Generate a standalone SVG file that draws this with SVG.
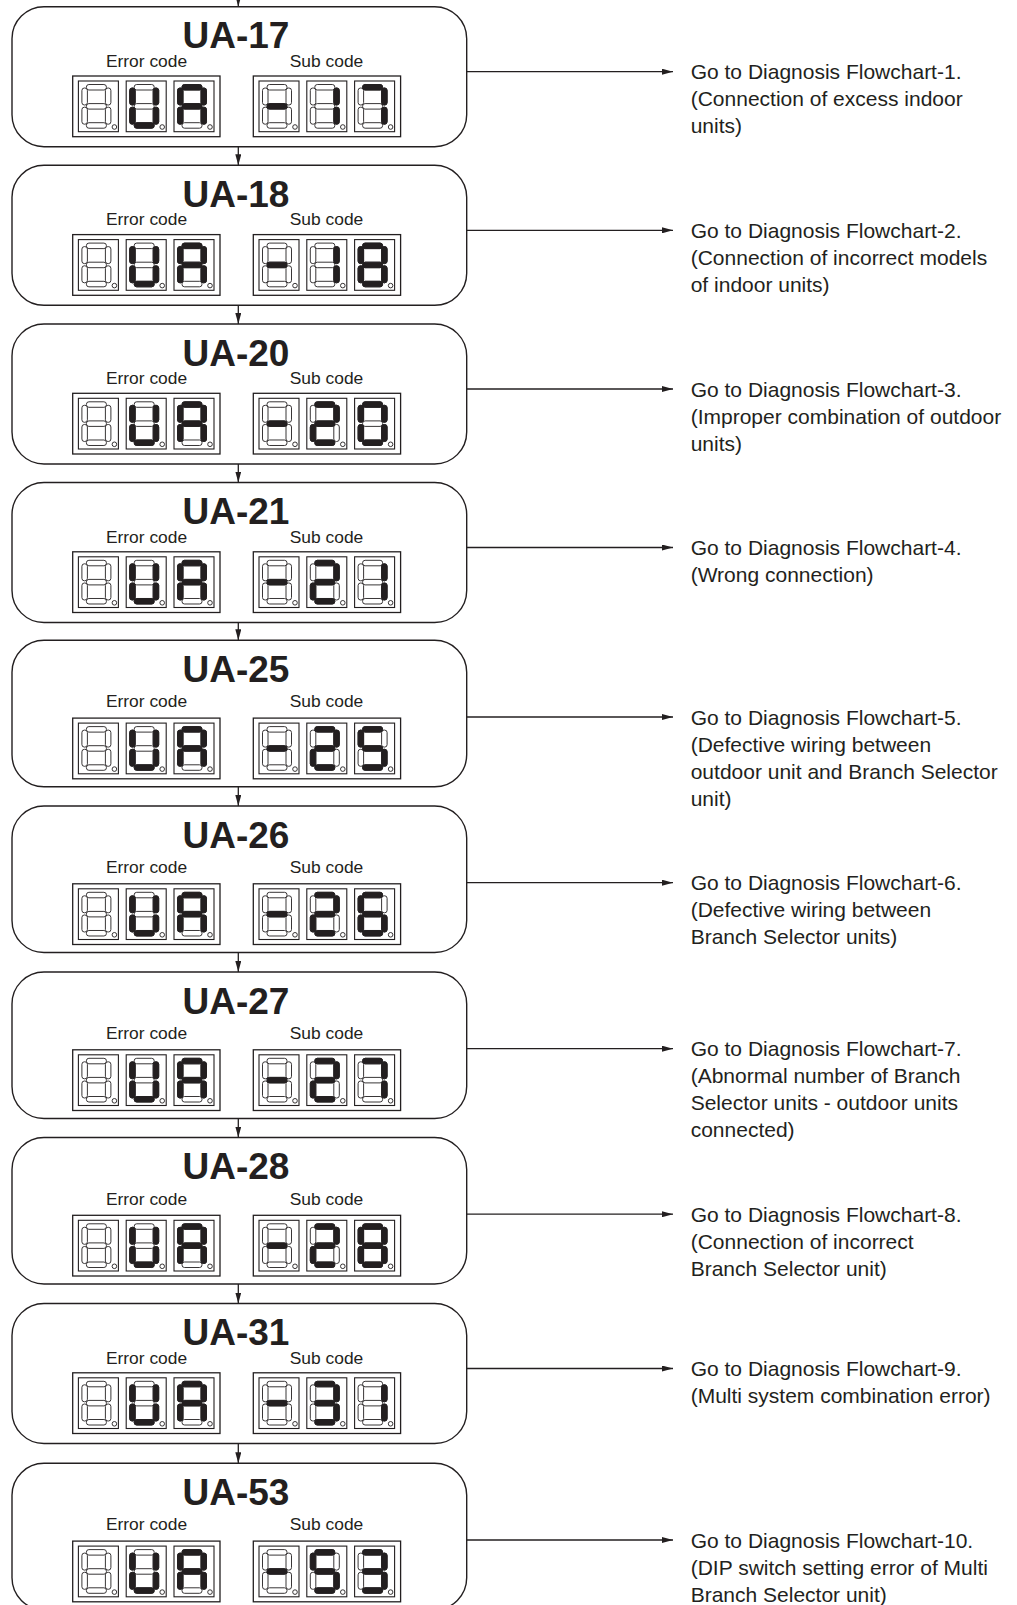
<svg xmlns="http://www.w3.org/2000/svg" xmlns:xlink="http://www.w3.org/1999/xlink" width="1017" height="1605" viewBox="0 0 1017 1605">
<style>
.box{fill:#fff;stroke:#231f20;stroke-width:1.4}
.ttl{font-family:"Liberation Sans",Arial,sans-serif;font-weight:bold;font-size:37px;fill:#231f20;text-anchor:middle}
.lbl{font-family:"Liberation Sans",Arial,sans-serif;font-size:17.4px;fill:#231f20;text-anchor:middle}
.txt{font-family:"Liberation Sans",Arial,sans-serif;font-size:21px;fill:#231f20}
.disp{fill:#fff;stroke:#231f20;stroke-width:1.3}
.cellf{fill:#fff;stroke:#231f20;stroke-width:1.1}
.off{fill:#fff;stroke:#231f20;stroke-width:0.9}
.on{fill:#231f20;stroke:#231f20;stroke-width:0.9}
.con{fill:none;stroke:#231f20;stroke-width:1.3}
</style>
<defs>
<marker id="arr" markerUnits="userSpaceOnUse" markerWidth="11" markerHeight="6" refX="11" refY="3" orient="auto">
<path d="M0,0 L11,3 L0,6 z" fill="#231f20"/>
</marker>
<g id="cell">
<rect class="cellf" x="0" y="0" width="40" height="50.7"/>
<rect class="off" x="8" y="3.5" width="20" height="5.5" rx="2.5"/>
<rect class="off" x="8" y="22.6" width="20" height="5.5" rx="2.5"/>
<rect class="off" x="8" y="41.7" width="20" height="5.5" rx="2.5"/>
<rect class="off" x="3.5" y="7" width="5.5" height="17" rx="2.5"/>
<rect class="off" x="3.5" y="26.2" width="5.5" height="17" rx="2.5"/>
<rect class="off" x="27" y="7" width="5.5" height="17" rx="2.5"/>
<rect class="off" x="27" y="26.2" width="5.5" height="17" rx="2.5"/>
<circle class="off" cx="36" cy="46" r="2.3"/>
</g>
<rect id="sa" class="on" x="8" y="3.5" width="20" height="5.5" rx="2.5"/>
<rect id="sg" class="on" x="8" y="22.6" width="20" height="5.5" rx="2.5"/>
<rect id="sd" class="on" x="8" y="41.7" width="20" height="5.5" rx="2.5"/>
<rect id="sf" class="on" x="3.5" y="7" width="5.5" height="17" rx="2.5"/>
<rect id="se" class="on" x="3.5" y="26.2" width="5.5" height="17" rx="2.5"/>
<rect id="sb" class="on" x="27" y="7" width="5.5" height="17" rx="2.5"/>
<rect id="sc" class="on" x="27" y="26.2" width="5.5" height="17" rx="2.5"/>
<g id="dU"><use href="#cell"/><use href="#sb"/><use href="#sc"/><use href="#sd"/><use href="#se"/><use href="#sf"/></g>
<g id="dA"><use href="#cell"/><use href="#sa"/><use href="#sb"/><use href="#sc"/><use href="#se"/><use href="#sf"/><use href="#sg"/></g>
<g id="dM"><use href="#cell"/><use href="#sg"/></g>
<g id="d0"><use href="#cell"/><use href="#sa"/><use href="#sb"/><use href="#sc"/><use href="#sd"/><use href="#se"/><use href="#sf"/></g>
<g id="d1"><use href="#cell"/><use href="#sb"/><use href="#sc"/></g>
<g id="d2"><use href="#cell"/><use href="#sa"/><use href="#sb"/><use href="#sg"/><use href="#se"/><use href="#sd"/></g>
<g id="d3"><use href="#cell"/><use href="#sa"/><use href="#sb"/><use href="#sg"/><use href="#sc"/><use href="#sd"/></g>
<g id="d5"><use href="#cell"/><use href="#sa"/><use href="#sf"/><use href="#sg"/><use href="#sc"/><use href="#sd"/></g>
<g id="d6"><use href="#cell"/><use href="#sa"/><use href="#sf"/><use href="#sg"/><use href="#se"/><use href="#sc"/><use href="#sd"/></g>
<g id="d7"><use href="#cell"/><use href="#sa"/><use href="#sb"/><use href="#sc"/></g>
<g id="d8"><use href="#cell"/><use href="#sa"/><use href="#sb"/><use href="#sc"/><use href="#sd"/><use href="#se"/><use href="#sf"/><use href="#sg"/></g>
<g id="errDisp"><rect class="disp" width="147.3" height="60.7"/><use href="#cell" x="5.7" y="5"/><use href="#dU" x="53.5" y="5"/><use href="#dA" x="101.3" y="5"/></g>
<rect id="subFrame" class="disp" width="147.3" height="60.7"/>
</defs>
<rect width="1017" height="1605" fill="#fff"/>

<g id="connectors">
<line class="con" x1="238.3" y1="0" x2="238.3" y2="6.7" marker-end="url(#arr)"/>
<line class="con" x1="238.3" y1="146.7" x2="238.3" y2="165.3" marker-end="url(#arr)"/>
<line class="con" x1="238.3" y1="305.3" x2="238.3" y2="324" marker-end="url(#arr)"/>
<line class="con" x1="238.3" y1="464" x2="238.3" y2="482.5" marker-end="url(#arr)"/>
<line class="con" x1="238.3" y1="622.5" x2="238.3" y2="640.3" marker-end="url(#arr)"/>
<line class="con" x1="238.3" y1="786.8" x2="238.3" y2="806" marker-end="url(#arr)"/>
<line class="con" x1="238.3" y1="952.5" x2="238.3" y2="972" marker-end="url(#arr)"/>
<line class="con" x1="238.3" y1="1118.5" x2="238.3" y2="1137.5" marker-end="url(#arr)"/>
<line class="con" x1="238.3" y1="1284" x2="238.3" y2="1303.5" marker-end="url(#arr)"/>
<line class="con" x1="238.3" y1="1443.5" x2="238.3" y2="1463.3" marker-end="url(#arr)"/>
<line class="con" x1="466.7" y1="71.7" x2="673" y2="71.7" marker-end="url(#arr)"/>
<line class="con" x1="466.7" y1="230.3" x2="673" y2="230.3" marker-end="url(#arr)"/>
<line class="con" x1="466.7" y1="389" x2="673" y2="389" marker-end="url(#arr)"/>
<line class="con" x1="466.7" y1="547.5" x2="673" y2="547.5" marker-end="url(#arr)"/>
<line class="con" x1="466.7" y1="717" x2="673" y2="717" marker-end="url(#arr)"/>
<line class="con" x1="466.7" y1="882.7" x2="673" y2="882.7" marker-end="url(#arr)"/>
<line class="con" x1="466.7" y1="1048.7" x2="673" y2="1048.7" marker-end="url(#arr)"/>
<line class="con" x1="466.7" y1="1214.2" x2="673" y2="1214.2" marker-end="url(#arr)"/>
<line class="con" x1="466.7" y1="1368.5" x2="673" y2="1368.5" marker-end="url(#arr)"/>
<line class="con" x1="466.7" y1="1540" x2="673" y2="1540" marker-end="url(#arr)"/>
</g>

<g id="node-ua17">
<rect class="box" x="12" y="6.7" width="454.7" height="140" rx="32"/>
<text class="ttl" x="236" y="48.3">UA-17</text>
<text class="lbl" x="146.5" y="66.7">Error code</text>
<text class="lbl" x="326.5" y="66.7">Sub code</text>
<use href="#errDisp" x="72.7" y="76"/>
<g transform="translate(253.3,76)"><use href="#subFrame"/><use href="#dM" x="5.7" y="5"/><use href="#d1" x="53.5" y="5"/><use href="#d7" x="101.3" y="5"/></g>
</g>
<g id="node-ua18">
<rect class="box" x="12" y="165.3" width="454.7" height="140" rx="32"/>
<text class="ttl" x="236" y="206.9">UA-18</text>
<text class="lbl" x="146.5" y="225.3">Error code</text>
<text class="lbl" x="326.5" y="225.3">Sub code</text>
<use href="#errDisp" x="72.7" y="234.6"/>
<g transform="translate(253.3,234.6)"><use href="#subFrame"/><use href="#dM" x="5.7" y="5"/><use href="#d1" x="53.5" y="5"/><use href="#d8" x="101.3" y="5"/></g>
</g>
<g id="node-ua20">
<rect class="box" x="12" y="324" width="454.7" height="140" rx="32"/>
<text class="ttl" x="236" y="365.6">UA-20</text>
<text class="lbl" x="146.5" y="384">Error code</text>
<text class="lbl" x="326.5" y="384">Sub code</text>
<use href="#errDisp" x="72.7" y="393.3"/>
<g transform="translate(253.3,393.3)"><use href="#subFrame"/><use href="#dM" x="5.7" y="5"/><use href="#d2" x="53.5" y="5"/><use href="#d0" x="101.3" y="5"/></g>
</g>
<g id="node-ua21">
<rect class="box" x="12" y="482.5" width="454.7" height="140" rx="32"/>
<text class="ttl" x="236" y="524.1">UA-21</text>
<text class="lbl" x="146.5" y="542.5">Error code</text>
<text class="lbl" x="326.5" y="542.5">Sub code</text>
<use href="#errDisp" x="72.7" y="551.8"/>
<g transform="translate(253.3,551.8)"><use href="#subFrame"/><use href="#dM" x="5.7" y="5"/><use href="#d2" x="53.5" y="5"/><use href="#d1" x="101.3" y="5"/></g>
</g>
<g id="node-ua25">
<rect class="box" x="12" y="640.3" width="454.7" height="146.5" rx="32"/>
<text class="ttl" x="236" y="682">UA-25</text>
<text class="lbl" x="146.5" y="707.3">Error code</text>
<text class="lbl" x="326.5" y="707.3">Sub code</text>
<use href="#errDisp" x="72.7" y="718.1"/>
<g transform="translate(253.3,718.1)"><use href="#subFrame"/><use href="#dM" x="5.7" y="5"/><use href="#d2" x="53.5" y="5"/><use href="#d5" x="101.3" y="5"/></g>
</g>
<g id="node-ua26">
<rect class="box" x="12" y="806" width="454.7" height="146.5" rx="32"/>
<text class="ttl" x="236" y="847.7">UA-26</text>
<text class="lbl" x="146.5" y="873">Error code</text>
<text class="lbl" x="326.5" y="873">Sub code</text>
<use href="#errDisp" x="72.7" y="883.8"/>
<g transform="translate(253.3,883.8)"><use href="#subFrame"/><use href="#dM" x="5.7" y="5"/><use href="#d2" x="53.5" y="5"/><use href="#d6" x="101.3" y="5"/></g>
</g>
<g id="node-ua27">
<rect class="box" x="12" y="972" width="454.7" height="146.5" rx="32"/>
<text class="ttl" x="236" y="1013.7">UA-27</text>
<text class="lbl" x="146.5" y="1039">Error code</text>
<text class="lbl" x="326.5" y="1039">Sub code</text>
<use href="#errDisp" x="72.7" y="1049.8"/>
<g transform="translate(253.3,1049.8)"><use href="#subFrame"/><use href="#dM" x="5.7" y="5"/><use href="#d2" x="53.5" y="5"/><use href="#d7" x="101.3" y="5"/></g>
</g>
<g id="node-ua28">
<rect class="box" x="12" y="1137.5" width="454.7" height="146.5" rx="32"/>
<text class="ttl" x="236" y="1179.2">UA-28</text>
<text class="lbl" x="146.5" y="1204.5">Error code</text>
<text class="lbl" x="326.5" y="1204.5">Sub code</text>
<use href="#errDisp" x="72.7" y="1215.3"/>
<g transform="translate(253.3,1215.3)"><use href="#subFrame"/><use href="#dM" x="5.7" y="5"/><use href="#d2" x="53.5" y="5"/><use href="#d8" x="101.3" y="5"/></g>
</g>
<g id="node-ua31">
<rect class="box" x="12" y="1303.5" width="454.7" height="140" rx="32"/>
<text class="ttl" x="236" y="1345.1">UA-31</text>
<text class="lbl" x="146.5" y="1363.5">Error code</text>
<text class="lbl" x="326.5" y="1363.5">Sub code</text>
<use href="#errDisp" x="72.7" y="1372.8"/>
<g transform="translate(253.3,1372.8)"><use href="#subFrame"/><use href="#dM" x="5.7" y="5"/><use href="#d3" x="53.5" y="5"/><use href="#d1" x="101.3" y="5"/></g>
</g>
<g id="node-ua53">
<rect class="box" x="12" y="1463.3" width="454.7" height="146.5" rx="32"/>
<text class="ttl" x="236" y="1505">UA-53</text>
<text class="lbl" x="146.5" y="1530.3">Error code</text>
<text class="lbl" x="326.5" y="1530.3">Sub code</text>
<use href="#errDisp" x="72.7" y="1541.1"/>
<g transform="translate(253.3,1541.1)"><use href="#subFrame"/><use href="#dM" x="5.7" y="5"/><use href="#d5" x="53.5" y="5"/><use href="#d3" x="101.3" y="5"/></g>
</g>

<g id="target-1"><text class="txt" x="690.7" y="79.2">Go to Diagnosis Flowchart-1.<tspan x="690.7" dy="27">(Connection of excess indoor</tspan><tspan x="690.7" dy="27">units)</tspan></text></g>
<g id="target-2"><text class="txt" x="690.7" y="237.8">Go to Diagnosis Flowchart-2.<tspan x="690.7" dy="27">(Connection of incorrect models</tspan><tspan x="690.7" dy="27">of indoor units)</tspan></text></g>
<g id="target-3"><text class="txt" x="690.7" y="396.5">Go to Diagnosis Flowchart-3.<tspan x="690.7" dy="27">(Improper combination of outdoor</tspan><tspan x="690.7" dy="27">units)</tspan></text></g>
<g id="target-4"><text class="txt" x="690.7" y="555">Go to Diagnosis Flowchart-4.<tspan x="690.7" dy="27">(Wrong connection)</tspan></text></g>
<g id="target-5"><text class="txt" x="690.7" y="724.5">Go to Diagnosis Flowchart-5.<tspan x="690.7" dy="27">(Defective wiring between</tspan><tspan x="690.7" dy="27">outdoor unit and Branch Selector</tspan><tspan x="690.7" dy="27">unit)</tspan></text></g>
<g id="target-6"><text class="txt" x="690.7" y="890.2">Go to Diagnosis Flowchart-6.<tspan x="690.7" dy="27">(Defective wiring between</tspan><tspan x="690.7" dy="27">Branch Selector units)</tspan></text></g>
<g id="target-7"><text class="txt" x="690.7" y="1056.2">Go to Diagnosis Flowchart-7.<tspan x="690.7" dy="27">(Abnormal number of Branch</tspan><tspan x="690.7" dy="27">Selector units - outdoor units</tspan><tspan x="690.7" dy="27">connected)</tspan></text></g>
<g id="target-8"><text class="txt" x="690.7" y="1221.7">Go to Diagnosis Flowchart-8.<tspan x="690.7" dy="27">(Connection of incorrect</tspan><tspan x="690.7" dy="27">Branch Selector unit)</tspan></text></g>
<g id="target-9"><text class="txt" x="690.7" y="1376">Go to Diagnosis Flowchart-9.<tspan x="690.7" dy="27">(Multi system combination error)</tspan></text></g>
<g id="target-10"><text class="txt" x="690.7" y="1547.5">Go to Diagnosis Flowchart-10.<tspan x="690.7" dy="27">(DIP switch setting error of Multi</tspan><tspan x="690.7" dy="27">Branch Selector unit)</tspan></text></g>
</svg>
